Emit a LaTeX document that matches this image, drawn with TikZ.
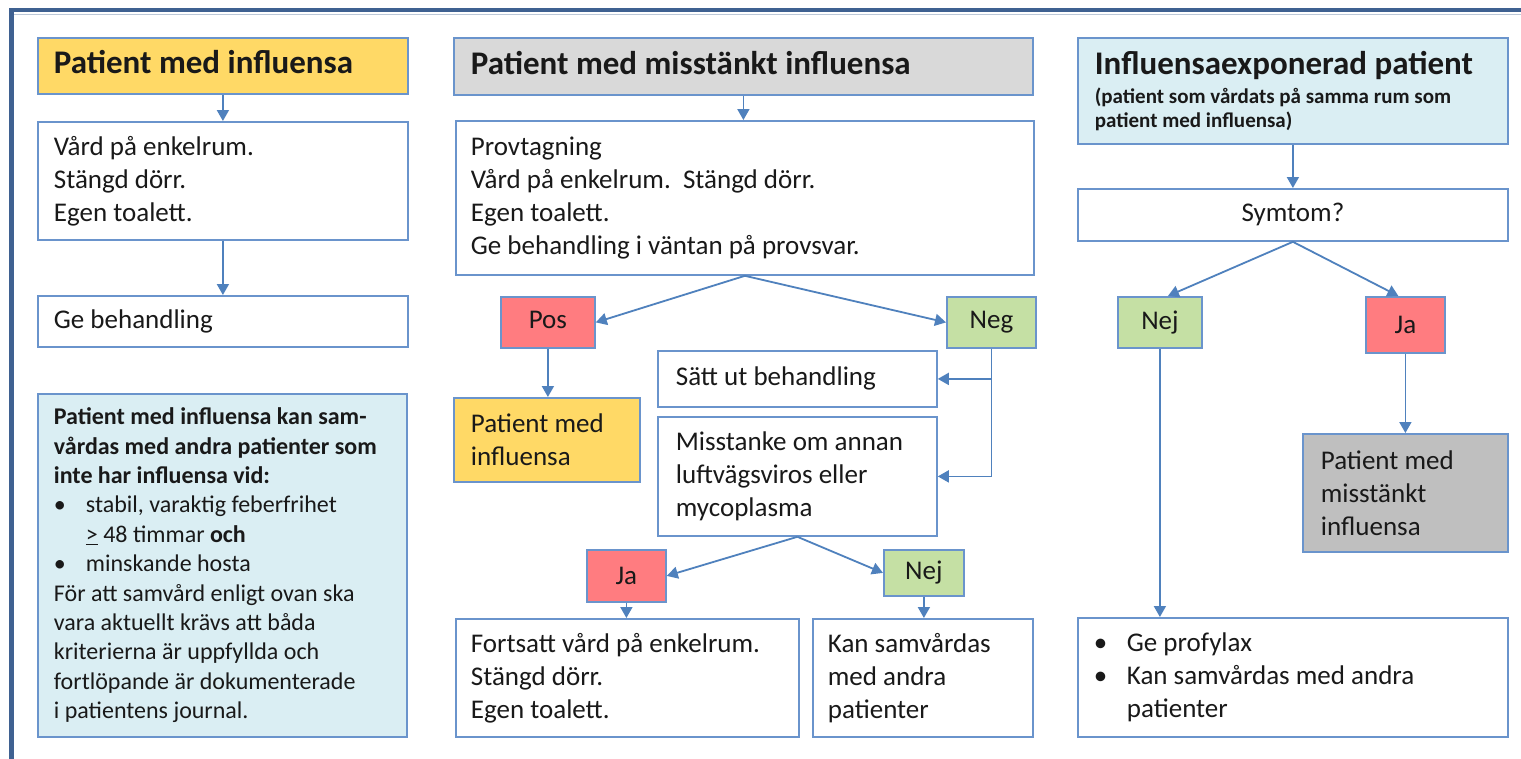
\documentclass[tikz,border=0pt]{standalone}
\usepackage{fontspec}
\setmainfont{Carlito}
\usetikzlibrary{arrows.meta,calc}
\definecolor{frameblue}{HTML}{3F6191}
\definecolor{lineblue}{HTML}{4F81BD}
\definecolor{boxline}{HTML}{6A94CC}
\definecolor{ygold}{HTML}{FFD966}
\definecolor{lgray}{HTML}{D9D9D9}
\definecolor{mgray}{HTML}{BFBFBF}
\definecolor{lblue}{HTML}{DAEEF3}
\definecolor{pinkred}{HTML}{FF7C80}
\definecolor{lgreen}{HTML}{C5E0A4}
\newcommand\flowbox[8]{%
  \pgfmathsetmacro\fbW{#4-#2}%
  \pgfmathsetmacro\fbH{#5-#3}%
  \pgfmathsetmacro\fbT{#4-#2-2*#7}%
  \node[box,#6,inner xsep=#7pt,minimum width=\fbW pt,minimum height=\fbH pt,text width=\fbT pt] (#1) at (#2,#3) {#8};}
\begin{document}
\begin{tikzpicture}[x=1pt,y=-1pt,
  box/.style={draw=boxline, line width=1.8pt, fill=white, anchor=north west, inner ysep=0pt, align=flush left, font=\fontsize{27}{33}\selectfont, text=black!90},
  mid/.style={align=flush center},
  titlefont/.style={font=\fontsize{33}{40}\selectfont\bfseries, text height=23pt, text depth=7pt},
  arr/.style={draw=lineblue, line width=1.8pt, -{Triangle[width=12pt,length=11pt]}},
]
\useasboundingbox (0,0) rectangle (1521,758);
\fill[white] (0,0) rectangle (1521,758);
% frame
\draw[frameblue!35, line width=1pt] (14,14) -- (1521,14);
\draw[frameblue, line width=4.5pt] (11.5,760) -- (11.5,10) -- (1525,10);

% column 1
\flowbox{t1}{37}{37}{407}{93}{fill=ygold,titlefont}{16}{Patient med influensa}
\flowbox{c1a}{37}{121}{407}{239}{}{16}{Vård på enkelrum.\\Stängd dörr.\\Egen toalett.}
\flowbox{c1b}{37}{295}{407}{346}{}{16}{Ge behandling}
\flowbox{info}{37}{393}{406}{736}{fill=lblue,font=\fontsize{24}{29.4}\selectfont}{16}{%
\textbf{Patient med influensa kan sam-}\\
\textbf{vårdas med andra patienter som}\\
\textbf{inte har influensa vid:}\\
\makebox[32pt][l]{\textbullet}stabil, varaktig feberfrihet\\
\hspace*{32pt}\underline{>} 48 timmar \textbf{och}\\
\makebox[32pt][l]{\textbullet}minskande hosta\\
För att samvård enligt ovan ska\\
vara aktuellt krävs att båda\\
kriterierna är uppfyllda och\\
fortlöpande är dokumenterade\\
i patientens journal.}

% column 2
\flowbox{t2}{453}{37}{1032}{94}{fill=lgray,titlefont}{17}{Patient med misstänkt influensa}
\flowbox{c2a}{455}{120}{1033}{274}{}{15}{Provtagning\\Vård på enkelrum.\ \ Stängd dörr.\\Egen toalett.\\Ge behandling i väntan på provsvar.}
\flowbox{pos}{500}{296}{594}{347}{fill=pinkred,mid,text height=19pt,text depth=6pt}{4}{Pos}
\flowbox{neg}{946}{296}{1035}{347}{fill=lgreen,mid}{4}{Neg}
\flowbox{pmi}{453}{397}{639}{481}{fill=ygold}{17}{Patient med\\influensa}
\flowbox{satt}{657}{350}{936}{406}{}{18}{Sätt ut behandling}
\flowbox{miss}{657}{416}{936}{535}{}{18}{Misstanke om annan\\luftvägsviros eller\\mycoplasma}
\flowbox{ja2}{586}{549}{665}{601}{fill=pinkred,mid}{4}{Ja}
\flowbox{nej2}{883}{549}{963}{595}{fill=lgreen,mid}{4}{Nej}
\flowbox{fort}{455}{618}{798}{736}{}{15}{Fortsatt vård på enkelrum.\\Stängd dörr.\\Egen toalett.}
\flowbox{kan}{812}{618}{1032}{736}{}{15}{Kan samvårdas\\med andra\\patienter}

% column 3
\flowbox{t3}{1077}{37}{1507}{143}{fill=lblue}{17}{\fontsize{33}{33}\selectfont\bfseries Influensaexponerad patient\par\vspace{5pt}\fontsize{21}{24}\selectfont (patient som vårdats på samma rum som\newline patient med influensa)\par}
\flowbox{sym}{1077}{188}{1507}{240}{mid}{16}{Symtom?}
\flowbox{nej3}{1117}{296}{1201}{347}{fill=lgreen,mid}{4}{Nej}
\flowbox{ja3}{1365}{296}{1444}{352}{fill=pinkred,mid}{4}{Ja}
\flowbox{pmm}{1302}{433}{1507}{551}{fill=mgray}{18}{Patient med\\misstänkt\\influensa}
\flowbox{prof}{1077}{617}{1507}{736}{}{16}{\makebox[33pt][l]{\textbullet}Ge profylax\\\makebox[33pt][l]{\textbullet}Kan samvårdas med andra\\\hspace*{33pt}patienter}

% connectors
\draw[arr] (t1.south) -- (c1a.north);
\draw[arr] (c1a.south) -- (c1b.north);
\draw[arr] (t2.south) -- (t2.south |- c2a.north);
\draw[arr] (c2a.south) -- (pos.east);
\draw[arr] (c2a.south) -- (neg.west);
\draw[arr] (pos.south) -- (pos.south |- pmi.north);
\draw[arr] (neg.south) |- (satt.east);
\draw[arr] (neg.south) |- (miss.east);
\draw[arr] (miss.south) -- (ja2.east);
\draw[arr] (miss.south) -- (nej2.west);
\draw[arr] (ja2.south) -- (ja2.south |- fort.north);
\draw[arr] (nej2.south) -- (nej2.south |- kan.north);
\draw[arr] (t3.south) -- (sym.north);
\draw[arr] (sym.south) -- ([xshift=8pt]nej3.north);
\draw[arr] (sym.south) -- ([xshift=-7pt]ja3.north);
\draw[arr] (nej3.south) -- (nej3.south |- prof.north);
\draw[arr] (ja3.south) -- (ja3.south |- pmm.north);
\end{tikzpicture}
\end{document}
